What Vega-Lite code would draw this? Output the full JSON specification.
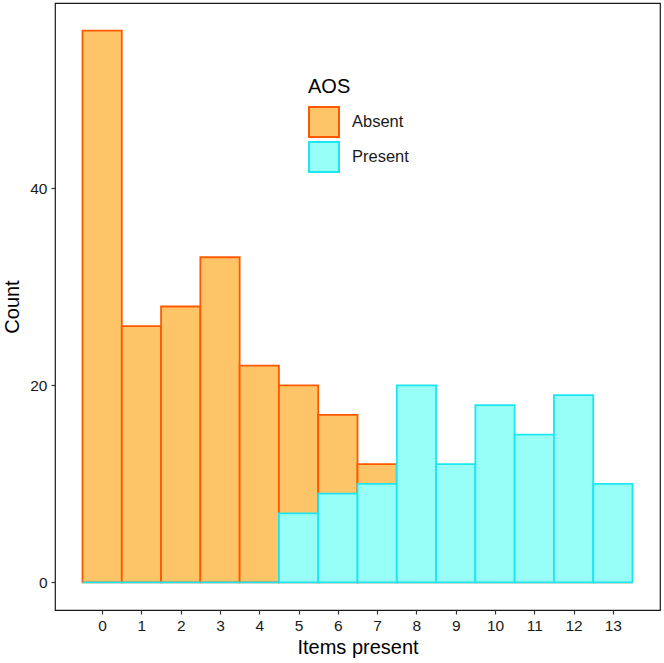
{
  "$schema": "https://vega.github.io/schema/vega-lite/v6.json",
  "width": 605,
  "height": 607,
  "padding": {"left": 55, "top": 3, "right": 4, "bottom": 53},
  "autosize": {"type": "none"},
  "background": "white",
  "config": {
    "font": "Liberation Sans",
    "view": {"stroke": "#1a1a1a", "strokeWidth": 1.2},
    "axis": {"grid": false, "domain": false, "tickColor": "#333333", "tickSize": 4, "tickWidth": 1.2, "labelColor": "#1a1a1a", "labelFontSize": 15.5, "titleFontSize": 20, "titleFontWeight": "normal", "titleColor": "black"}
  },
  "data": {
    "values": [
      {"items": 0, "lo": -0.5, "hi": 0.5, "AOS": "Absent", "count": 56},
      {"items": 1, "lo": 0.5, "hi": 1.5, "AOS": "Absent", "count": 26},
      {"items": 2, "lo": 1.5, "hi": 2.5, "AOS": "Absent", "count": 28},
      {"items": 3, "lo": 2.5, "hi": 3.5, "AOS": "Absent", "count": 33},
      {"items": 4, "lo": 3.5, "hi": 4.5, "AOS": "Absent", "count": 22},
      {"items": 5, "lo": 4.5, "hi": 5.5, "AOS": "Absent", "count": 20},
      {"items": 6, "lo": 5.5, "hi": 6.5, "AOS": "Absent", "count": 17},
      {"items": 7, "lo": 6.5, "hi": 7.5, "AOS": "Absent", "count": 12},
      {"items": 8, "lo": 7.5, "hi": 8.5, "AOS": "Absent", "count": 0},
      {"items": 9, "lo": 8.5, "hi": 9.5, "AOS": "Absent", "count": 0},
      {"items": 10, "lo": 9.5, "hi": 10.5, "AOS": "Absent", "count": 0},
      {"items": 11, "lo": 10.5, "hi": 11.5, "AOS": "Absent", "count": 0},
      {"items": 12, "lo": 11.5, "hi": 12.5, "AOS": "Absent", "count": 0},
      {"items": 13, "lo": 12.5, "hi": 13.5, "AOS": "Absent", "count": 0},
      {"items": 0, "lo": -0.5, "hi": 0.5, "AOS": "Present", "count": 0},
      {"items": 1, "lo": 0.5, "hi": 1.5, "AOS": "Present", "count": 0},
      {"items": 2, "lo": 1.5, "hi": 2.5, "AOS": "Present", "count": 0},
      {"items": 3, "lo": 2.5, "hi": 3.5, "AOS": "Present", "count": 0},
      {"items": 4, "lo": 3.5, "hi": 4.5, "AOS": "Present", "count": 0},
      {"items": 5, "lo": 4.5, "hi": 5.5, "AOS": "Present", "count": 7},
      {"items": 6, "lo": 5.5, "hi": 6.5, "AOS": "Present", "count": 9},
      {"items": 7, "lo": 6.5, "hi": 7.5, "AOS": "Present", "count": 10},
      {"items": 8, "lo": 7.5, "hi": 8.5, "AOS": "Present", "count": 20},
      {"items": 9, "lo": 8.5, "hi": 9.5, "AOS": "Present", "count": 12},
      {"items": 10, "lo": 9.5, "hi": 10.5, "AOS": "Present", "count": 18},
      {"items": 11, "lo": 10.5, "hi": 11.5, "AOS": "Present", "count": 15},
      {"items": 12, "lo": 11.5, "hi": 12.5, "AOS": "Present", "count": 19},
      {"items": 13, "lo": 12.5, "hi": 13.5, "AOS": "Present", "count": 10}
    ]
  },
  "mark": {"type": "bar", "strokeWidth": 1.8, "fillOpacity": 1, "strokeOpacity": 1},
  "encoding": {
    "x": {"field": "lo", "type": "quantitative", "scale": {"domain": [-1.2, 14.2], "nice": false, "zero": false},
      "axis": {"title": "Items present", "values": [0,1,2,3,4,5,6,7,8,9,10,11,12,13], "labelPadding": 4, "titlePadding": 4, "labelFlush": false}},
    "x2": {"field": "hi"},
    "y": {"field": "count", "type": "quantitative", "scale": {"domain": [-2.8, 58.8], "nice": false, "zero": false},
      "axis": {"title": "Count", "values": [0, 20, 40], "labelPadding": 4, "titlePadding": 7, "labelFlush": false}},
    "y2": {"datum": 0},
    "fill": {"field": "AOS", "type": "nominal", "scale": {"domain": ["Absent", "Present"], "range": ["#FEC468", "#97FFF8"]},
      "legend": {"title": "AOS", "orient": "none", "legendX": 253, "legendY": 74, "symbolType": "square", "symbolSize": 900, "symbolStrokeWidth": 2, "titleFontSize": 20, "titleFontWeight": "normal", "titlePadding": 9, "labelFontSize": 16.5, "labelColor": "#1a1a1a", "labelOffset": 12, "rowPadding": -8, "symbolOpacity": 1}},
    "stroke": {"field": "AOS", "type": "nominal", "scale": {"domain": ["Absent", "Present"], "range": ["#FF5A00", "#1CE6F2"]},
      "legend": {"title": "AOS", "orient": "none", "legendX": 253, "legendY": 74, "symbolType": "square", "symbolSize": 900, "symbolStrokeWidth": 2, "titleFontSize": 20, "titleFontWeight": "normal", "titlePadding": 9, "labelFontSize": 16.5, "labelColor": "#1a1a1a", "labelOffset": 12, "rowPadding": -8, "symbolOpacity": 1}}
  }
}
